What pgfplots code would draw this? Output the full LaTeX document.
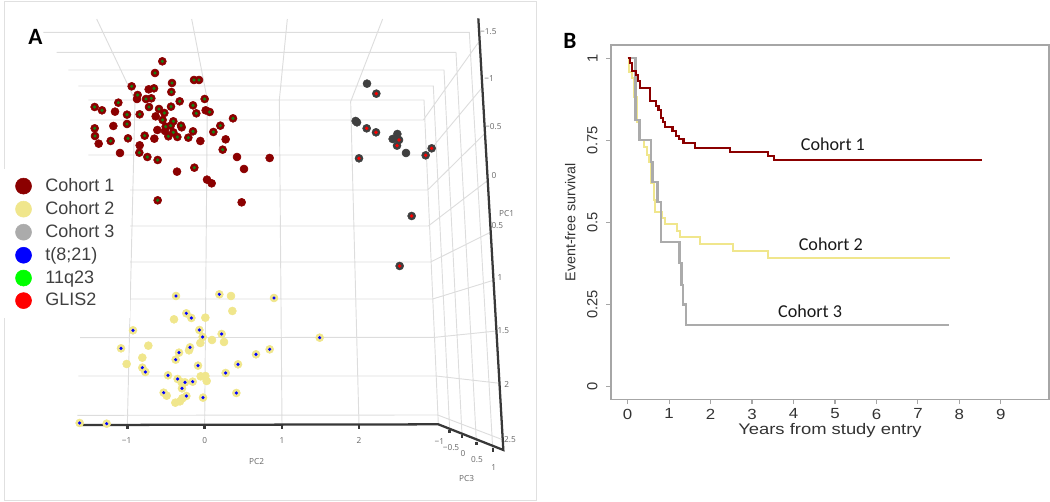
\documentclass[border=0pt]{standalone}
\usepackage{graphicx}
\usepackage{fontspec}
\setmainfont{Liberation Sans}
\newfontfamily\plotlyfont{Open Sans}
\newfontfamily\calibri{Carlito}
\usepackage{pgfplots}
\pgfplotsset{compat=1.18}
\definecolor{cA}{HTML}{8B0000}
\definecolor{cB}{HTML}{F0E68C}
\definecolor{cC}{HTML}{ABABAB}
\definecolor{cCdark}{HTML}{3F3F3F}
\definecolor{dotG}{HTML}{148214}
\definecolor{gridc}{HTML}{DDDDDD}
\definecolor{framec}{HTML}{A6A6A6}
\definecolor{txtB}{HTML}{333333}
\newcommand{\sx}[1]{\scalebox{1.15}[1]{#1}}
\begin{document}
\begin{tikzpicture}
\useasboundingbox (0,0) rectangle (787.5pt,376.5pt);
% Panel A: projected 3D scatter (coordinates, 3 units per pixel)
\begin{axis}[
  scale only axis, width=787.5pt, height=376.5pt,
  xmin=0, xmax=3150, ymin=0, ymax=1506,
  y filter/.expression={1506-y},
  axis lines=none, clip=false, unbounded coords=jump,
  legend style={at={(axis cs:6,1001)}, anchor=north west, draw=none, fill=white,
    font=\fontsize{13.5}{15}\selectfont, text=black!75,
    inner xsep=9.75pt, inner ysep=5.5pt, row sep=2pt,
    /tikz/column 1/.style={column sep=8.25pt}},
  legend cell align=left,
]
% outer frame
\addplot[forget plot, draw=black!12, line width=.7pt] coordinates {(13,3)(1610,3)(1610,1500)(13,1500)(13,3)};
% grid
\addplot[forget plot, draw=gridc, line width=.7pt] coordinates {
 (130,97)(1408,97)(1478,1345)(nan,nan)
 (170,157)(1368,157)(1429,1325)(nan,nan)
 (205,210)(1332,210)(1386,1305)(nan,nan)
 (235,258)(1300,258)(1349,1290)(nan,nan)
 (265,300)(1272,300)(1315,1273)(nan,nan)
 (270,360)(1270,360)(1437,125)(nan,nan)
 (265,465)(1278,465)(1447,262)(nan,nan)
 (265,570)(1283,570)(1455,400)(nan,nan)
 (260,678)(1285,678)(1465,540)(nan,nan)
 (255,786)(1292,786)(1475,695)(nan,nan)
 (250,897)(1298,897)(1483,840)(nan,nan)
 (240,1013)(1305,1012)(1490,993)(nan,nan)
 (235,1128)(1308,1128)(1500,1150)(nan,nan)
 (232,1246)(1313,1245)(1510,1320)(nan,nan)
 (382,1275)(405,300)(290,57)(nan,nan)
 (614,1275)(622,300)(575,57)(nan,nan)
 (846,1275)(838,300)(862,57)(nan,nan)
 (1077,1275)(1052,305)(1148,57)
};
% dark axes
\addplot[forget plot, draw=black!78, line width=1.7pt] coordinates {(245,1275)(1315,1273)(1510,1350)(1435,55)};
\addplot[forget plot, draw=black!78, line width=1.8pt] coordinates {
 (382,1275)(382,1287)(nan,nan)(614,1275)(614,1287)(nan,nan)(846,1275)(846,1287)(nan,nan)(1077,1275)(1077,1287)(nan,nan)
 (1349,1290)(1349,1300)(nan,nan)(1386,1305)(1386,1315)(nan,nan)(1429,1325)(1429,1335)(nan,nan)(1479,1345)(1479,1355)};
% Cohort 1
\addplot[forget plot, only marks, mark=*, mark size=3pt, mark options={draw=cA, fill=cA}] coordinates {
 (487,184)(465,219)(516,249)(582,240)(597,240)(395,259)(446,268)(462,265)(514,276)(413,285)
 (411,297)(438,297)(454,295)(539,304)(614,297)(355,308)(284,321)(306,331)(345,335)(381,344)
 (419,343)(447,321)(513,320)(579,316)(477,327)(589,340)(617,331)(629,336)(699,355)(467,349)
 (493,339)(488,360)(520,364)(543,377)(512,377)(497,380)(340,378)(381,372)(284,385)(285,408)
 (472,390)(495,393)(520,397)(545,382)(579,394)(640,396)(661,377)(434,407)(384,415)(332,423)
 (296,431)(463,416)(505,409)(532,411)(565,413)(601,423)(677,418)(668,449)(419,436)(418,458)
 (360,459)(442,471)(473,480)(711,471)(809,474)(732,507)(583,503)(531,515)(621,539)(635,550)
 (473,601)(725,607)};
% 11q23 within Cohort 1
\addplot[forget plot, only marks, mark=*, mark size=1pt, mark options={draw=dotG, fill=dotG}] coordinates {
 (487,184)(465,219)(516,249)(582,240)(597,240)(395,259)(462,265)(514,276)(413,285)
 (438,297)(454,295)(539,304)(614,297)(355,308)(284,321)(306,331)(381,344)
 (419,343)(447,321)(513,320)(579,316)(477,327)(589,340)(629,336)(699,355)
 (493,339)(488,360)(520,364)(543,377)(512,377)(497,380)(381,372)(284,385)(285,408)
 (520,397)(579,394)(640,396)(661,377)(434,407)(384,415)(332,423)
 (505,409)(532,411)(565,413)(668,449)(418,458)
 (442,471)(473,480)(583,503)(473,601)};
% Cohort 3
\addplot[forget plot, only marks, mark=*, mark size=3pt, mark options={draw=cCdark, fill=cCdark}] coordinates {
 (1101,251)(1129,281)(1067,363)(1071,367)(1100,385)(1128,397)(1192,402)(1178,417)(1197,420)(1191,437)
 (1218,459)(1295,445)(1277,466)(1077,475)(1235,648)(1199,798)};
% GLIS2 within Cohort 3
\addplot[forget plot, only marks, mark=*, mark size=1.1pt, mark options={draw=red, fill=red}] coordinates {
 (1129,281)(1100,385)(1128,397)(1197,420)(1191,437)(1295,445)(1277,466)(1077,475)(1235,648)(1199,798)};
% Cohort 2
\addplot[forget plot, only marks, mark=*, mark size=3pt, mark options={draw=cB, fill=cB}] coordinates {
 (528,888)(658,883)(693,888)(822,894)(697,933)(559,940)(574,954)(522,958)(616,953)(399,991)
 (598,990)(665,1002)(608,1011)(959,1013)(636,1020)(672,1026)(601,1029)(445,1037)(363,1045)(570,1042)
 (567,1051)(537,1058)(809,1048)(768,1063)(427,1073)(527,1079)(380,1092)(714,1093)(594,1097)(427,1103)
 (436,1116)(677,1119)(504,1126)(602,1129)(616,1128)(620,1143)(533,1137)(545,1147)(555,1147)(578,1145)
 (546,1165)(491,1178)(500,1187)(709,1179)(559,1188)(547,1195)(609,1193)(540,1204)(526,1208)(239,1269)
 (320,1271)};
% t(8;21) within Cohort 2
\addplot[forget plot, only marks, mark=*, mark size=1pt, mark options={draw=blue, fill=blue}] coordinates {
 (528,888)(658,883)(822,894)(559,940)(574,954)(399,991)(598,990)(665,1002)(608,1011)(959,1013)
 (363,1045)(570,1042)(537,1058)(809,1048)(768,1063)(527,1079)(714,1093)(594,1097)(427,1103)(436,1116)
 (677,1119)(504,1126)(533,1137)(555,1147)(578,1145)(546,1165)(491,1178)(709,1179)(559,1188)(609,1193)
 (239,1269)(320,1271)};
% legend
\addlegendimage{legend image code/.code={\fill[cA] (0.45cm,0) circle (6pt);}}
\addlegendentry{Cohort 1}
\addlegendimage{legend image code/.code={\fill[cB] (0.45cm,0) circle (6pt);}}
\addlegendentry{Cohort 2}
\addlegendimage{legend image code/.code={\fill[cC] (0.45cm,0) circle (6pt);}}
\addlegendentry{Cohort 3}
\addlegendimage{legend image code/.code={\fill[blue] (0.45cm,0) circle (6pt);}}
\addlegendentry{t(8;21)}
\addlegendimage{legend image code/.code={\fill[green] (0.45cm,0) circle (6pt);}}
\addlegendentry{11q23}
\addlegendimage{legend image code/.code={\fill[red] (0.45cm,0) circle (6pt);}}
\addlegendentry{GLIS2}
% panel letter
\node[font=\calibri\bfseries\fontsize{17.5}{18}\selectfont] at (axis cs:106,1394) {A};
% tick labels
\begin{scope}[every node/.style={font=\plotlyfont\fontsize{6.2}{7}\selectfont, text=black!60, inner sep=0pt}]
\node at (axis cs:380,183) {−1};
\node at (axis cs:614,183) {0};
\node at (axis cs:846,183) {1};
\node at (axis cs:1077,185) {2};
\node at (axis cs:770,121) {PC2};
\node at (axis cs:1400,71) {PC3};
\node at (axis cs:1520,864) {PC1};
\node at (axis cs:1318,181) {−1};
\node at (axis cs:1353,164) {−0.5};
\node at (axis cs:1389,146) {0};
\node at (axis cs:1431,126) {0.5};
\node at (axis cs:1481,102) {1};
\node at (axis cs:1465,1411) {−1.5};
\node at (axis cs:1467,1269) {−1};
\node at (axis cs:1480,1126) {−0.5};
\node at (axis cs:1482,979) {0};
\node at (axis cs:1492,828) {0.5};
\node at (axis cs:1500,674) {1};
\node at (axis cs:1510,514) {1.5};
\node at (axis cs:1520,352) {2};
\node at (axis cs:1530,186) {2.5};
\end{scope}
\node[font=\calibri\bfseries\fontsize{17.5}{18}\selectfont] at (axis cs:1710,1383) {B};
\end{axis}
% Panel B: Kaplan-Meier curves
\begin{axis}[
  at={(458.25pt,76.875pt)}, anchor=south west,
  scale only axis, width=328.5pt, height=265.875pt,
  xmin=-0.4, xmax=10.16, ymin=-0.039, ymax=1.0405,
  axis line style={draw=framec, line width=1.3pt},
  tick style={draw=framec, line width=.8pt},
  tick align=outside, major tick length=3.5pt,
  xtick pos=bottom, ytick pos=left,
  xtick={0,1,2,3,4,5,6,7,8,9},
  xticklabels={\sx{0},\sx{1},\sx{2},\sx{3},\sx{4},\sx{5},\sx{6},\sx{7},\sx{8},\sx{9}},
  ytick={0,0.25,0.5,0.75,1},
  yticklabels={0,0.25,0.5,0.75,1},
  tick label style={font=\fontsize{11}{12}\selectfont, text=txtB},
  yticklabel style={rotate=90, anchor=south},
  yticklabel shift=3pt,
  xlabel={\scalebox{1.2}[1]{Years from study entry}},
  ylabel={Event-free survival},
  xlabel style={font=\fontsize{11.5}{12}\selectfont, text=txtB, yshift=3.75pt},
  ylabel style={font=\fontsize{10.7}{12}\selectfont, text=txtB, yshift=2pt},
]
\addplot[const plot, draw=cB, line width=1.5pt] coordinates {
 (0,1)(.032,.959)(.112,.939)(.161,.883)(.225,.807)(.289,.751)(.385,.731)(.465,.706)(.522,.685)(.562,.619)
 (.626,.569)(.666,.533)(.827,.513)(.907,.495)(1.188,.475)(1.268,.455)(1.75,.435)(2.536,.414)(3.395,.392)(7.755,.391)};
\addplot[const plot, draw=cC, line width=1.7pt] coordinates {
 (0,1)(.19,.812)(.289,.751)(.562,.685)(.60,.624)(.722,.563)(.803,.440)(1.252,.376)(1.30,.310)(1.332,.25)(1.413,.188)(7.755,.188)};
\addplot[const plot, draw=cA, line width=1.6pt] coordinates {
 (0,1)(.064,.985)(.112,.961)(.193,.949)(.241,.932)(.305,.910)(.530,.870)(.690,.856)(.746,.843)(.803,.819)
 (.851,.807)(.899,.792)(1.083,.779)(1.172,.764)(1.244,.753)(1.348,.741)(1.621,.728)(2.472,.715)(3.395,.703)(3.531,.689)(8.55,.689)};
\begin{scope}[every node/.style={font=\calibri\fontsize{13.6}{15}\selectfont, text=black!90}]
\node at (axis cs:4.95,.739) {Cohort 1};
\node at (axis cs:4.90,.4345) {Cohort 2};
\node at (axis cs:4.40,.2305) {Cohort 3};
\end{scope}
\end{axis}
\end{tikzpicture}
\end{document}
